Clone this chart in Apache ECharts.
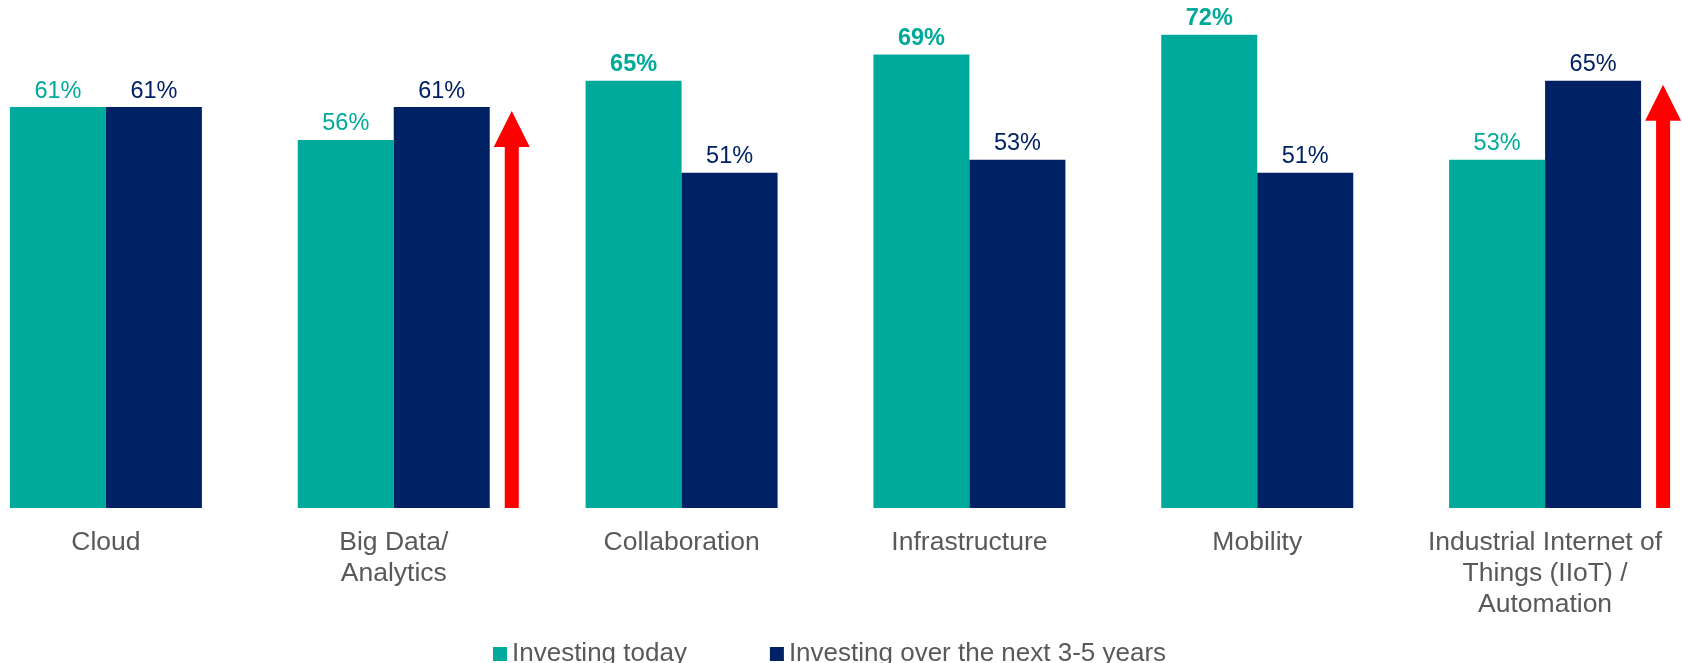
<!DOCTYPE html>
<html>
<head>
<meta charset="utf-8">
<script src="https://cdn.jsdelivr.net/npm/echarts@6/dist/echarts.min.js"></script>
<style>
  html, body { margin: 0; padding: 0; background: #fff; }
  #chart { width: 1682px; height: 663px; }
</style>
</head>
<body>
<div id="chart"></div>
<script>
  // categories and values
  var categories = ['Cloud', 'Big Data/\nAnalytics', 'Collaboration', 'Infrastructure', 'Mobility',
    'Industrial Internet of\nThings (IIoT) /\nAutomation'];
  var today = [61, 56, 65, 69, 72, 53];
  var nextYears = [61, 61, 51, 53, 51, 65];
  // labels drawn in bold on the teal bars
  var boldToday = [false, false, true, true, true, false];
  // red arrows: [category index, value they point to]
  var arrows = [[1, 61], [5, 65]];

  var TEAL = '#00aa9a';
  var NAVY = '#002164';
  var FONT = '"Liberation Sans", Arial, sans-serif';

  var chart = echarts.init(document.getElementById('chart'));

  var todayData = today.map(function (v, i) {
    return {
      value: v,
      label: {fontWeight: boldToday[i] ? 'bold' : 'normal'}
    };
  });

  var option = {
    animation: false,
    textStyle: {fontFamily: FONT},
    grid: {
      left: -38, top: 0, width: 1727, bottom: 155,
      containLabel: false,
      outerBoundsMode: 'none'
    },
    legend: {
      left: 488,
      top: 636,
      icon: 'rect',
      itemWidth: 14,
      itemHeight: 14,
      itemGap: 83,
      textStyle: {
        fontFamily: FONT,
        fontSize: 26,
        color: '#595959'
      },
      data: ['Investing today', 'Investing over the next 3-5 years']
    },
    xAxis: {
      type: 'category',
      data: categories,
      axisLine: {show: false},
      axisTick: {show: false},
      axisLabel: {
        interval: 0,
        margin: 19,
        fontSize: 26.5,
        lineHeight: 31,
        color: '#595959',
        fontFamily: FONT
      }
    },
    yAxis: {
      type: 'value',
      min: 0,
      max: 77.3,
      show: false,
      splitLine: {show: false}
    },
    series: [
      {
        name: 'Investing today',
        type: 'bar',
        barGap: '0%',
        barCategoryGap: '33.3%',
        itemStyle: {color: TEAL},
        label: {
          show: true,
          position: 'top',
          distance: 4,
          formatter: '{c}%',
          fontSize: 23.5,
          color: TEAL,
          fontFamily: FONT
        },
        data: todayData
      },
      {
        name: 'Investing over the next 3-5 years',
        type: 'bar',
        itemStyle: {color: NAVY},
        label: {
          show: true,
          position: 'top',
          distance: 4,
          formatter: '{c}%',
          fontSize: 23.5,
          color: NAVY,
          fontFamily: FONT
        },
        data: nextYears
      },
      {
        name: 'arrows',
        type: 'custom',
        clip: false,
        silent: true,
        z: 5,
        renderItem: function (params, api) {
          var base = api.coord([api.value(0), 0]);
          var top = api.coord([api.value(0), api.value(1)]);
          var band = api.size([1, 0])[0];
          var cx = base[0] + band * 0.41;
          var tipY = top[1] + 4;
          var headH = 36, headW = 18, shaftW = 7;
          return {
            type: 'polygon',
            shape: {
              points: [
                [cx, tipY],
                [cx + headW, tipY + headH],
                [cx + shaftW, tipY + headH],
                [cx + shaftW, base[1]],
                [cx - shaftW, base[1]],
                [cx - shaftW, tipY + headH],
                [cx - headW, tipY + headH]
              ]
            },
            style: {fill: '#ff0000'}
          };
        },
        data: arrows
      }
    ]
  };

  chart.setOption(option);
</script>
</body>
</html>
